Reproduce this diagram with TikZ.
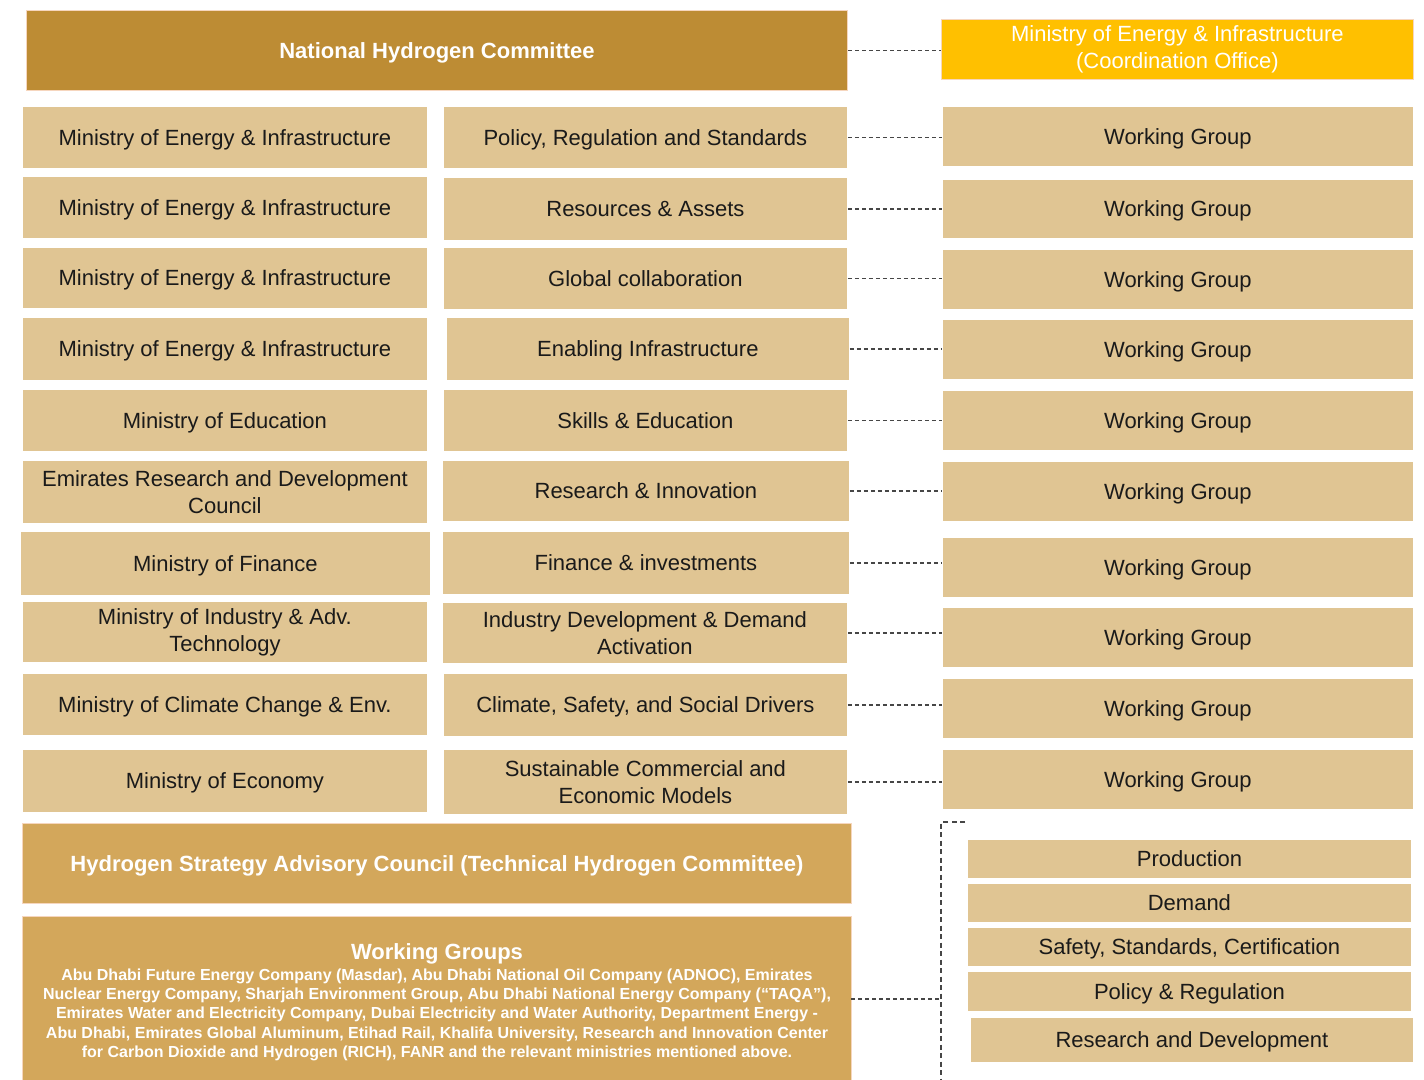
\documentclass[tikz,border=0pt]{standalone}
\usepackage{fontspec}
\setmainfont{Liberation Sans}
\definecolor{tanfill}{RGB}{224,197,147}
\definecolor{darkgold}{RGB}{189,140,52}
\definecolor{midgold}{RGB}{211,167,91}
\definecolor{coordyellow}{RGB}{255,192,0}
\definecolor{goldedge}{RGB}{246,214,190}
\definecolor{txt}{RGB}{26,26,26}
\definecolor{connc}{RGB}{70,70,70}
\begin{document}
\begin{tikzpicture}[x=1pt,y=-1pt,
  base/.style={anchor=north west, inner sep=0pt, align=center},
  sz/.style 2 args={minimum width=#1pt, minimum height=#2pt},
  one/.style={text height=20pt, text depth=4pt},
  tanbox/.style={base, fill=tanfill, draw=white, line width=0.8pt, text=txt,
    font=\fontsize{22}{27}\selectfont},
  goldbox/.style={base, fill=darkgold, draw=goldedge, line width=1pt, text=white,
    font=\bfseries\fontsize{22}{27}\selectfont},
  midbox/.style={base, fill=midgold, draw=goldedge, line width=1pt, text=white,
    font=\bfseries\fontsize{22}{27}\selectfont},
  coordbox/.style={base, fill=coordyellow, draw=goldedge, line width=0.8pt, text=white,
    font=\fontsize{22}{27}\selectfont},
  conn/.style={draw=connc, line width=1.5pt, dash pattern=on 4pt off 3pt},
  bracket/.style={draw=connc, line width=1.3pt, dash pattern=on 5pt off 3.5pt}]
\useasboundingbox (0,0) rectangle (1424,1079);

% top
\node[goldbox, one, sz={821}{80}] (nhc) at (26,10) {National Hydrogen Committee};
\node[coordbox, sz={472}{60}] (co) at (941,19) {Ministry of Energy \& Infrastructure\\(Coordination Office)};

% left column
\node[tanbox, one, sz={405}{62}] (l1) at (22,106) {Ministry of Energy \& Infrastructure};
\node[tanbox, one, sz={405}{62}] (l2) at (22,176) {Ministry of Energy \& Infrastructure};
\node[tanbox, one, sz={405}{61}] (l3) at (22,247) {Ministry of Energy \& Infrastructure};
\node[tanbox, one, sz={405}{63}] (l4) at (22,317) {Ministry of Energy \& Infrastructure};
\node[tanbox, one, sz={405}{62}] (l5) at (22,389) {Ministry of Education};
\node[tanbox, sz={405}{63}] (l6) at (22,460) {Emirates Research and Development\\Council};
\node[tanbox, one, sz={410}{64}] (l7) at (20,531) {Ministry of Finance};
\node[tanbox, sz={405}{61}] (l8) at (22,601) {Ministry of Industry \& Adv.\\Technology};
\node[tanbox, one, sz={405}{62}] (l9) at (22,673) {Ministry of Climate Change \& Env.};
\node[tanbox, one, sz={405}{63}] (l10) at (22,749) {Ministry of Economy};

% middle column
\node[tanbox, one, sz={404}{62}] (m1) at (443,106) {Policy, Regulation and Standards};
\node[tanbox, one, sz={404}{63}] (m2) at (443,177) {Resources \& Assets};
\node[tanbox, one, sz={404}{62}] (m3) at (443,247) {Global collaboration};
\node[tanbox, one, sz={403}{63}] (m4) at (446,317) {Enabling Infrastructure};
\node[tanbox, one, sz={404}{62}] (m5) at (443,389) {Skills \& Education};
\node[tanbox, one, sz={407}{61}] (m6) at (442,460) {Research \& Innovation};
\node[tanbox, one, sz={407}{63}] (m7) at (442,531) {Finance \& investments};
\node[tanbox, sz={405}{61}] (m8) at (442,602) {Industry Development \& Demand\\Activation};
\node[tanbox, one, sz={404}{63}] (m9) at (443,673) {Climate, Safety, and Social Drivers};
\node[tanbox, sz={404}{65}] (m10) at (443,749) {Sustainable Commercial and\\Economic Models};

% right column
\node[tanbox, one, sz={471}{60}] (w1) at (942,106) {Working Group};
\node[tanbox, one, sz={471}{59}] (w2) at (942,179) {Working Group};
\node[tanbox, one, sz={471}{60}] (w3) at (942,249) {Working Group};
\node[tanbox, one, sz={471}{60}] (w4) at (942,319) {Working Group};
\node[tanbox, one, sz={471}{60}] (w5) at (942,390) {Working Group};
\node[tanbox, one, sz={471}{60}] (w6) at (942,461) {Working Group};
\node[tanbox, one, sz={471}{60}] (w7) at (942,537) {Working Group};
\node[tanbox, one, sz={471}{60}] (w8) at (942,607) {Working Group};
\node[tanbox, one, sz={471}{60}] (w9) at (942,678) {Working Group};
\node[tanbox, one, sz={471}{60}] (w10) at (942,749) {Working Group};

% bottom
\node[midbox, one, sz={829}{80}] (hsac) at (22,823) {Hydrogen Strategy Advisory Council (Technical Hydrogen Committee)};
\node[midbox, sz={829}{171}] (wg) at (22,916) {Working Groups\\[-6pt]
  \parbox[t]{820pt}{\centering\bfseries\fontsize{16}{19.3}\selectfont
  Abu Dhabi Future Energy Company (Masdar), Abu Dhabi National Oil Company (ADNOC), Emirates\\
  Nuclear Energy Company, Sharjah Environment Group, Abu Dhabi National Energy Company (“TAQA”),\\
  Emirates Water and Electricity Company, Dubai Electricity and Water Authority, Department Energy -\\
  Abu Dhabi, Emirates Global Aluminum, Etihad Rail, Khalifa University, Research and Innovation Center\\
  for Carbon Dioxide and Hydrogen (RICH), FANR and the relevant ministries mentioned above.\par}};

% bottom right list
\node[tanbox, one, sz={444}{39}] (p1) at (967,839) {Production};
\node[tanbox, one, sz={444}{39}] (p2) at (967,883) {Demand};
\node[tanbox, one, sz={444}{39}] (p3) at (967,927) {Safety, Standards, Certification};
\node[tanbox, one, sz={444}{40}] (p4) at (967,971) {Policy \& Regulation};
\node[tanbox, one, sz={443}{45}] (p5) at (970,1017) {Research and Development};

% connectors
\draw[conn] (nhc.east) -- (nhc.east -| co.west);
\foreach \i in {1,...,10}{
  \draw[conn] (m\i.east) -- (m\i.east -| w\i.west);
}
\coordinate (btick) at (965,822);
\coordinate (btop) at (941,822);
\coordinate (bbot) at (941,1079);
\draw[bracket] (btick) -- (btop) -- (bbot);
\draw[conn] (wg.west |- 0,999) ++(829,0) coordinate (wgr);
\draw[conn] (wgr) -- (wgr -| btop);
\end{tikzpicture}
\end{document}
